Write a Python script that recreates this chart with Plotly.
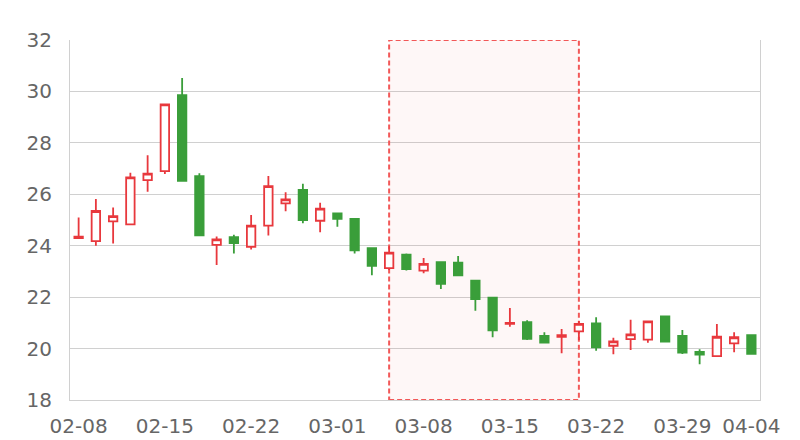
import plotly.graph_objects as go

dates = ["02-08", "02-09", "02-10", "02-11", "02-12",
         "02-15", "02-16", "02-17", "02-18", "02-19",
         "02-22", "02-23", "02-24", "02-25", "02-26",
         "03-01", "03-02", "03-03", "03-04", "03-05",
         "03-08", "03-09", "03-10", "03-11", "03-12",
         "03-15", "03-16", "03-17", "03-18", "03-19",
         "03-22", "03-23", "03-24", "03-25", "03-26",
         "03-29", "03-30", "03-31", "04-01", "04-04"]

open_ = [24.30, 24.18, 24.95, 24.83, 26.55, 26.90, 29.86, 26.71, 24.03, 24.33,
         23.96, 24.78, 25.65, 26.17, 24.97, 25.26, 25.04, 23.91, 23.13, 23.65,
         23.03, 23.36, 23.34, 22.64, 21.98, 20.96, 21.03, 20.49, 20.46, 20.67,
         20.98, 20.11, 20.37, 20.35, 21.25, 20.49, 19.87, 19.71, 20.20, 20.52]
close = [24.35, 25.35, 25.15, 26.66, 26.80, 29.50, 26.52, 24.40, 24.25, 24.10,
         24.78, 26.32, 25.80, 25.00, 25.44, 25.04, 23.82, 23.22, 23.73, 23.09,
         23.29, 22.52, 22.85, 21.92, 20.71, 21.00, 20.38, 20.23, 20.52, 20.96,
         20.05, 20.28, 20.55, 21.06, 20.27, 19.84, 19.77, 20.46, 20.44, 19.79]
high = [25.10, 25.82, 25.49, 26.84, 27.52, 29.50, 30.52, 26.82, 24.36, 24.43,
        25.19, 26.71, 26.08, 26.41, 25.67, 25.26, 25.04, 23.94, 23.98, 23.70,
        23.52, 23.36, 23.60, 22.64, 21.98, 21.58, 21.10, 20.63, 20.76, 21.07,
        21.22, 20.42, 21.12, 21.06, 21.25, 20.72, 19.97, 20.96, 20.63, 20.52]
low = [24.30, 24.00, 24.09, 24.80, 26.10, 26.79, 26.50, 24.38, 23.25, 23.70,
       23.85, 24.40, 25.34, 24.87, 24.52, 24.74, 23.70, 22.85, 23.06, 23.04,
       22.93, 22.32, 22.85, 21.47, 20.44, 20.85, 20.33, 20.23, 19.82, 20.33,
       19.92, 19.78, 19.94, 20.23, 20.24, 19.79, 19.39, 19.68, 19.86, 19.77]

tick_idx = [0, 5, 10, 15, 20, 25, 30, 35, 39]
y_ticks = [18, 20, 22, 24, 26, 28, 30, 32]
area_start, area_end = "03-04", "03-19"

UP = "#e8383d"
DOWN = "#3a9e3a"
GRID = "#d0d0d0"
TXT = "#666666"

fig = go.Figure(go.Candlestick(
    x=dates, open=open_, high=high, low=low, close=close,
    increasing=dict(line=dict(color=UP, width=1.8), fillcolor="#ffffff"),
    decreasing=dict(line=dict(color=DOWN, width=1.8), fillcolor=DOWN),
    whiskerwidth=0, hoverinfo="x+y",
))

fig.add_shape(type="rect", xref="x", yref="y",
              x0=area_start, x1=area_end, y0=18, y1=32,
              fillcolor="rgba(240,60,60,0.04)",
              line=dict(color="#f25858", width=2, dash="5px,3px"),
              layer="between")

# page body has an 8px default margin: size/margins compensate for it
fig.update_layout(
    width=792, height=432,
    margin=dict(l=62, r=40, t=32, b=40),
    paper_bgcolor="white", plot_bgcolor="white",
    showlegend=False, boxgap=0.3,
    font=dict(family="DejaVu Sans", size=20, color=TXT),
    xaxis=dict(type="category", categoryorder="array", categoryarray=dates,
               range=[-0.5, len(dates) - 0.5], automargin=False,
               tickmode="array",
               tickvals=[dates[i] for i in tick_idx],
               ticktext=[dates[i] for i in tick_idx],
               rangeslider=dict(visible=False),
               showgrid=False, showline=True, linecolor=GRID, linewidth=1,
               ticks="outside", ticklen=8, tickcolor="rgba(0,0,0,0)",
               tickfont=dict(size=20, color=TXT), zeroline=False),
    yaxis=dict(range=[18, 32], tickmode="array", tickvals=y_ticks,
               automargin=False,
               showgrid=True, gridcolor=GRID, gridwidth=1,
               showline=True, linecolor=GRID, linewidth=1, mirror=True,
               ticks="outside", ticklen=13, tickcolor="rgba(0,0,0,0)",
               tickfont=dict(size=20, color=TXT), zeroline=False),
)

fig.write_html("out.html")
